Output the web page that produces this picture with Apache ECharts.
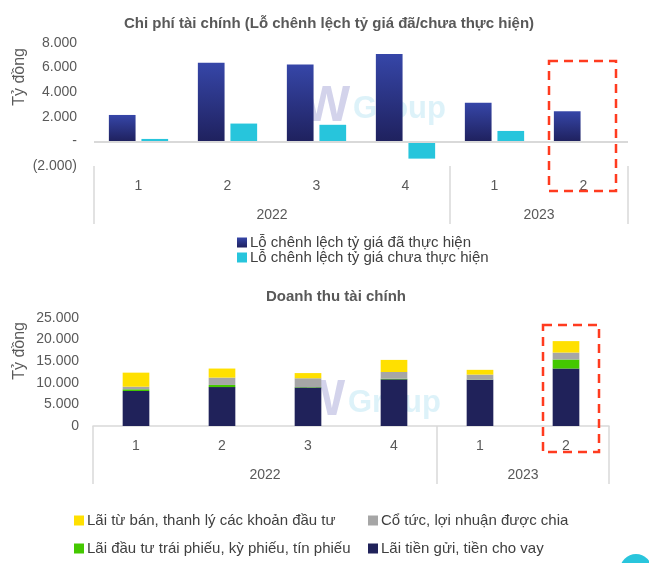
<!DOCTYPE html>
<html>
<head>
<meta charset="utf-8">
<script src="https://cdn.jsdelivr.net/npm/echarts@6/dist/echarts.min.js"></script>
<style>
html,body{margin:0;padding:0;background:#fff;}
#chart{width:649px;height:563px;}
</style>
</head>
<body>
<div id="chart"></div>
<script>
// ---- data ----
const quarters = ['1', '2', '3', '4', '1', '2'];
const years = ['2022', '2023'];
const yearSpans = [4, 2];

const topTitle = 'Chi phí tài chính (Lỗ chênh lệch tỷ giá đã/chưa thực hiện)';
const topNames = ['Lỗ chênh lệch tỷ giá đã thực hiện', 'Lỗ chênh lệch tỷ giá chưa thực hiện'];
const realizedLoss = [2150, 6400, 6250, 7100, 3150, 2450];
const unrealizedLoss = [200, 1450, 1350, -1400, 850, -100];
const topTicks = [-2000, 0, 2000, 4000, 6000, 8000];

const bottomTitle = 'Doanh thu tài chính';
const bottomNames = ['Lãi tiền gửi, tiền cho vay', 'Lãi đầu tư trái phiếu, kỳ phiếu, tín phiếu', 'Cổ tức, lợi nhuận được chia', 'Lãi từ bán, thanh lý các khoản đầu tư'];
const depositInterest = [8100, 9000, 8900, 10800, 10700, 13300];
const bondInterest = [400, 500, 100, 150, 50, 2100];
const dividends = [600, 1700, 2050, 1550, 1150, 1600];
const investmentGains = [3250, 2100, 1200, 2800, 1100, 2650];
const bottomTicks = [0, 5000, 10000, 15000, 20000, 25000];

const unitLabel = 'Tỷ đồng';

// ---- helpers ----
const FONT = 'Liberation Sans';
function fmt(v) { return String(Math.abs(v)).replace(/\B(?=(\d{3})+(?!\d))/g, '.'); }
function topFmt(v) { return v === 0 ? '-' : (v < 0 ? '(' + fmt(v) + ')' : fmt(v)); }

const yearCenters = [], yearBounds = [0];
let acc = 0;
yearSpans.forEach(s => { yearCenters.push(acc + s / 2); acc += s; yearBounds.push(acc); });
function yearLabel(v) { const i = yearCenters.indexOf(v); return i >= 0 ? years[i] : ''; }

const chart = echarts.init(document.getElementById('chart'), null, { renderer: 'canvas' });

const labelColor = '#595959';
const lineColor = '#d9d9d9';

function quarterAxis(grid, showLine) {
  return {
    type: 'category', gridIndex: grid, data: quarters, position: 'bottom',
    axisLine: { show: showLine, onZero: false, lineStyle: { color: lineColor, width: 1.5 } },
    axisTick: { show: false },
    axisLabel: { margin: 13, color: labelColor, fontSize: 14, fontFamily: FONT },
    splitLine: { show: false }
  };
}
function yearAxis(grid) {
  return {
    type: 'value', gridIndex: grid, min: 0, max: acc, position: 'bottom',
    axisLine: { show: false, onZero: false },
    axisTick: { show: true, customValues: yearBounds, length: 58, inside: false, lineStyle: { color: lineColor, width: 1.5 } },
    axisLabel: { customValues: yearCenters, formatter: yearLabel, margin: 42, color: labelColor, fontSize: 14, fontFamily: FONT },
    splitLine: { show: false }
  };
}

const legendText = { fontSize: 15, color: '#404040', fontFamily: FONT, padding: [0, 0, 0, -2] };

function watermark(x, y) {
  return [
    { type: 'text', x: x, y: y, z: 0, silent: true, style: { text: 'W', fontSize: 50, fontWeight: 'bold', fill: 'rgba(110,110,190,0.3)', fontFamily: FONT } },
    { type: 'text', x: x + 50, y: y + 12, z: 0, silent: true, style: { text: 'Group', fontSize: 31, fontWeight: 'bold', fill: 'rgba(120,205,230,0.25)', fontFamily: FONT } }
  ];
}

const option = {
  animation: false,
  backgroundColor: '#ffffff',
  textStyle: { fontFamily: FONT },
  title: [
    { text: topTitle, left: 324, top: 11, textAlign: 'center',
      textStyle: { fontSize: 15, fontWeight: 'bold', color: '#595959', fontFamily: FONT } },
    { text: bottomTitle, left: 331, top: 284, textAlign: 'center',
      textStyle: { fontSize: 15, fontWeight: 'bold', color: '#595959', fontFamily: FONT } }
  ],
  grid: [
    { left: 94, right: 21, top: 43, height: 123 },
    { left: 93, right: 40, top: 318, height: 108 }
  ],
  legend: [
    { data: topNames, orient: 'vertical', left: 232, top: 230, itemGap: 0, itemWidth: 10, itemHeight: 10,
      icon: 'rect', textStyle: legendText },
    { data: [bottomNames[3], bottomNames[1]], orient: 'vertical', left: 69, top: 508, itemGap: 13, itemWidth: 10, itemHeight: 10,
      icon: 'rect', textStyle: legendText },
    { data: [bottomNames[2], bottomNames[0]], orient: 'vertical', left: 363, top: 508, itemGap: 13, itemWidth: 10, itemHeight: 10,
      icon: 'rect', textStyle: legendText }
  ],
  xAxis: [
    quarterAxis(0, false), yearAxis(0),
    quarterAxis(1, true), yearAxis(1)
  ],
  yAxis: [
    { type: 'value', gridIndex: 0, min: topTicks[0], max: topTicks[topTicks.length - 1], interval: 2000,
      axisLine: { show: false }, axisTick: { show: false }, splitLine: { show: false },
      axisLabel: { formatter: topFmt, margin: 17, color: labelColor, fontSize: 14, fontFamily: FONT } },
    { type: 'value', gridIndex: 1, min: bottomTicks[0], max: bottomTicks[bottomTicks.length - 1], interval: 5000,
      axisLine: { show: false }, axisTick: { show: false }, splitLine: { show: false },
      axisLabel: { formatter: v => fmt(v), margin: 14, color: labelColor, fontSize: 14, fontFamily: FONT } }
  ],
  graphic: [
    // axis unit names
    { type: 'text', left: 12, top: 48, rotation: Math.PI / 2, style: { text: unitLabel, fontSize: 16, fill: '#595959', fontFamily: FONT } },
    { type: 'text', left: 12, top: 322, rotation: Math.PI / 2, style: { text: unitLabel, fontSize: 16, fill: '#595959', fontFamily: FONT } },
    // watermark
    ...watermark(303, 82),
    ...watermark(298, 376),
    // red dashed highlight boxes
    { type: 'rect', z: 100, silent: true, shape: { x: 549, y: 61, width: 67, height: 130 },
      style: { fill: 'none', stroke: '#ff3b1f', lineWidth: 2.5, lineDash: [9, 6] } },
    { type: 'rect', z: 100, silent: true, shape: { x: 543, y: 325, width: 56, height: 127 },
      style: { fill: 'none', stroke: '#ff3b1f', lineWidth: 2.5, lineDash: [9, 6] } },
    // corner decoration
    { type: 'circle', z: 100, silent: true, shape: { cx: 636, cy: 570, r: 16 }, style: { fill: '#29c5dc' } }
  ],
  series: [
    { name: topNames[0], type: 'bar', xAxisIndex: 0, yAxisIndex: 0, data: realizedLoss,
      barWidth: '30%', barGap: '22%',
      itemStyle: { color: new echarts.graphic.LinearGradient(0, 0, 0, 1, [
        { offset: 0, color: '#3646a8' }, { offset: 1, color: '#1f215e' }]) } },
    { name: topNames[1], type: 'bar', xAxisIndex: 0, yAxisIndex: 0, data: unrealizedLoss,
      barWidth: '30%', barGap: '22%',
      itemStyle: { color: '#27c5dc' },
      markLine: { silent: true, symbol: 'none', label: { show: false },
        lineStyle: { color: lineColor, width: 2, type: 'solid' }, data: [{ yAxis: 0 }] } },
    { name: bottomNames[0], type: 'bar', stack: 'rev', xAxisIndex: 2, yAxisIndex: 1, data: depositInterest,
      barWidth: '31%', itemStyle: { color: '#20225a' } },
    { name: bottomNames[1], type: 'bar', stack: 'rev', xAxisIndex: 2, yAxisIndex: 1, data: bondInterest,
      barWidth: '31%', itemStyle: { color: '#44c800' } },
    { name: bottomNames[2], type: 'bar', stack: 'rev', xAxisIndex: 2, yAxisIndex: 1, data: dividends,
      barWidth: '31%', itemStyle: { color: '#a6a6a6' } },
    { name: bottomNames[3], type: 'bar', stack: 'rev', xAxisIndex: 2, yAxisIndex: 1, data: investmentGains,
      barWidth: '31%', itemStyle: { color: '#ffe000' } }
  ]
};
chart.setOption(option);
</script>
</body>
</html>
